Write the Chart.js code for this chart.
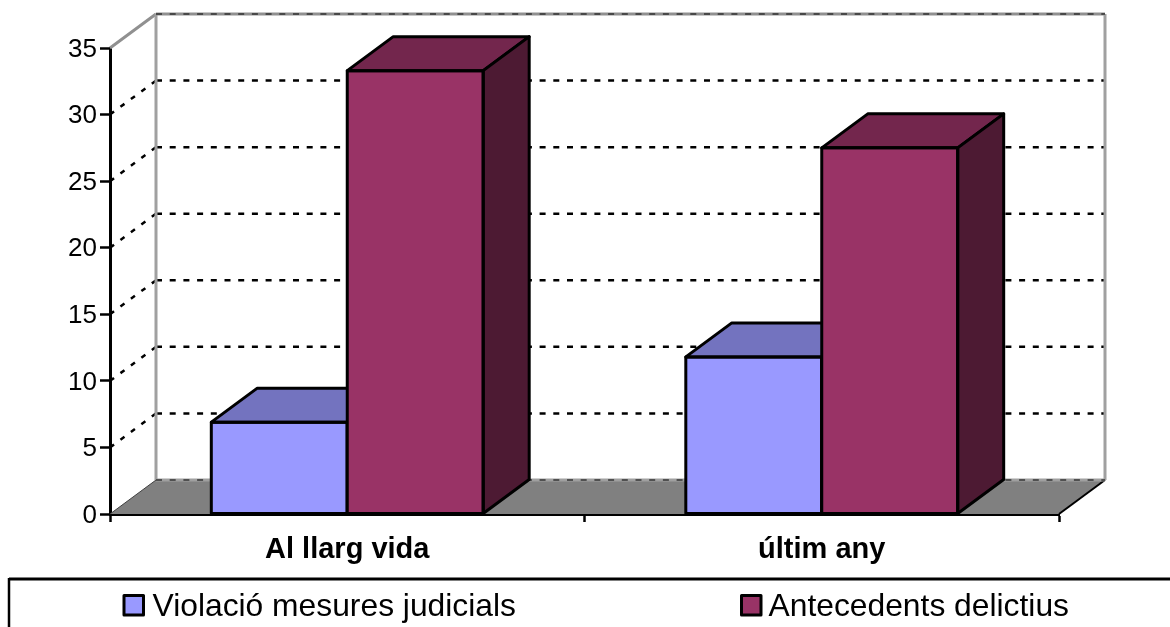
<!DOCTYPE html>
<html>
<head>
<meta charset="utf-8">
<title>Violació mesures judicials</title>
<script src="https://cdn.jsdelivr.net/npm/chart.js@4/dist/chart.umd.min.js"></script>
<style>
    html, body { margin: 0; padding: 0; background: #fff; overflow: hidden; }
    canvas { display: block; }
</style>
</head>
<body>
<canvas id="chart" width="1170" height="627"></canvas>
<script>
'use strict';

const categories = ['Al llarg vida', 'últim any'];
const seriesNames = ['Violació mesures judicials', 'Antecedents delictius'];
const violacioValues = [6.9, 11.8];
const antecedentsValues = [33.3, 27.5];

// fake perspective: the back wall is shifted by this much from the axes
const DEPTH_X = 46;
const DEPTH_Y = -34;

const FRONT = ['#9999ff', '#993366'];
const TOP = ['#7373bf', '#73264d'];
const SIDE = ['#545480', '#4d1a33'];

function poly(ctx, pts, fill, stroke, width) {
    ctx.beginPath();
    pts.forEach((p, i) => (i ? ctx.lineTo(p[0], p[1]) : ctx.moveTo(p[0], p[1])));
    ctx.closePath();
    if (fill) {
        ctx.fillStyle = fill;
        ctx.fill();
    }
    if (stroke) {
        ctx.strokeStyle = stroke;
        ctx.lineWidth = width;
        ctx.lineJoin = 'round';
        ctx.stroke();
    }
}

function line(ctx, x1, y1, x2, y2, color, width, dash) {
    ctx.save();
    ctx.beginPath();
    ctx.setLineDash(dash || []);
    ctx.moveTo(x1, y1);
    ctx.lineTo(x2, y2);
    ctx.strokeStyle = color;
    ctx.lineWidth = width;
    ctx.stroke();
    ctx.restore();
}

// floor, back wall and the gridlines that run across it
const wallsPlugin = {
    id: 'walls',
    beforeDatasetsDraw(chart) {
        const ctx = chart.ctx;
        const { left, right } = chart.chartArea;
        const yScale = chart.scales.y;
        const base = yScale.getPixelForValue(0);
        const top = yScale.getPixelForValue(yScale.max);

        poly(ctx, [
            [left, base],
            [left + DEPTH_X, base + DEPTH_Y],
            [right + DEPTH_X, base + DEPTH_Y],
            [right, base],
        ], '#808080');
        line(ctx, left, base, left + DEPTH_X, base + DEPTH_Y, '#404040', 1);
        line(ctx, right, base, right + DEPTH_X, base + DEPTH_Y, '#000', 2);

        for (const tick of yScale.ticks) {
            if (tick.value === 0 || tick.value === yScale.max) continue;
            const y = yScale.getPixelForValue(tick.value);
            line(ctx, left, y, left + DEPTH_X, y + DEPTH_Y, '#000', 2.5, [5, 8]);
            line(ctx, left + DEPTH_X, y + DEPTH_Y, right + DEPTH_X, y + DEPTH_Y, '#000', 2.5, [6, 7.7]);
        }

        // wall outline
        line(ctx, left, top, left + DEPTH_X, top + DEPTH_Y, '#909090', 3);
        line(ctx, left + DEPTH_X, top + DEPTH_Y, left + DEPTH_X, base + DEPTH_Y, '#a0a0a0', 3);
        line(ctx, left + DEPTH_X, top + DEPTH_Y, right + DEPTH_X, top + DEPTH_Y, '#909090', 3);
        line(ctx, right + DEPTH_X, top + DEPTH_Y, right + DEPTH_X, base + DEPTH_Y, '#a0a0a0', 3);
        line(ctx, left + DEPTH_X, top + DEPTH_Y, right + DEPTH_X, top + DEPTH_Y, '#000', 1, [6, 7.7]);
        line(ctx, left + DEPTH_X, base + DEPTH_Y, right + DEPTH_X, base + DEPTH_Y, '#a0a0a0', 3);
        line(ctx, left + DEPTH_X, base + DEPTH_Y, right + DEPTH_X, base + DEPTH_Y, '#000', 1, [6, 7.7]);
    },
};

// Chart.js paints the first dataset last, but here the second box has to sit
// in front, so the painting order is taken over: front fill, then all outlines
const boxPlugin = {
    id: 'boxFaces',
    beforeDatasetsDraw(chart) {
        const ctx = chart.ctx;
        chart.data.datasets.forEach((ds, i) => {
            const meta = chart.getDatasetMeta(i);
            meta.controller.draw();
            for (const bar of meta.data) {
                const p = bar.getProps(['x', 'y', 'base', 'width'], true);
                const l = p.x - p.width / 2;
                const r = p.x + p.width / 2;
                poly(ctx, [
                    [l, p.y],
                    [l + DEPTH_X, p.y + DEPTH_Y],
                    [r + DEPTH_X, p.y + DEPTH_Y],
                    [r, p.y],
                ], TOP[i], '#000', 3);
                poly(ctx, [
                    [r, p.y],
                    [r + DEPTH_X, p.y + DEPTH_Y],
                    [r + DEPTH_X, p.base + DEPTH_Y],
                    [r, p.base],
                ], SIDE[i], '#000', 3);
                poly(ctx, [
                    [l, p.y],
                    [r, p.y],
                    [r, p.base],
                    [l, p.base],
                ], null, '#000', 3);
            }
        });
    },
    beforeDatasetDraw() {
        return false; // already painted above
    },
};

// framed legend along the bottom edge, running off the canvas
const legendPlugin = {
    id: 'framedLegend',
    afterDraw(chart) {
        const ctx = chart.ctx;
        const w = chart.width;
        const h = chart.height;
        line(ctx, 9, 579, w, 579, '#000', 3);
        line(ctx, 9, 578, 9, h, '#000', 2.5);

        const boxX = [124, 741.5];
        const textX = [152.5, 768.5];
        seriesNames.forEach((name, i) => {
            ctx.fillStyle = FRONT[i];
            ctx.strokeStyle = '#000';
            ctx.lineWidth = 3;
            ctx.fillRect(boxX[i], 595.5, 19.5, 19.5);
            ctx.strokeRect(boxX[i], 595.5, 19.5, 19.5);
            ctx.fillStyle = '#000';
            ctx.font = '31.8px "Liberation Sans"';
            ctx.textAlign = 'left';
            ctx.textBaseline = 'alphabetic';
            ctx.fillText(name, textX[i], 616);
        });
    },
};

Chart.defaults.font.family = '"Liberation Sans", Arial, sans-serif';
Chart.defaults.color = '#000';

new Chart(document.getElementById('chart').getContext('2d'), {
    type: 'bar',
    data: {
        labels: categories,
        datasets: [
            {
                label: seriesNames[0],
                data: violacioValues,
                backgroundColor: FRONT[0],
            },
            {
                label: seriesNames[1],
                data: antecedentsValues,
                backgroundColor: FRONT[1],
            },
        ],
    },
    options: {
        responsive: false,
        animation: false,
        layout: { padding: { top: 48, right: 111, left: 0, bottom: 0 } },
        datasets: {
            bar: {
                barPercentage: 1,
                categoryPercentage: 0.573,
                borderWidth: 0,
            },
        },
        plugins: {
            legend: { display: false },
            tooltip: { enabled: false },
        },
        scales: {
            x: {
                afterFit(scale) {
                    scale.height = 113;
                },
                border: { color: '#000', width: 3 },
                grid: {
                    offset: true,
                    drawOnChartArea: false,
                    drawTicks: true,
                    tickLength: 8,
                    tickColor: '#000',
                    tickWidth: 2.5,
                },
                ticks: {
                    padding: 11,
                    maxRotation: 0,
                    font: { size: 29, weight: 'bold' },
                },
            },
            y: {
                min: 0,
                max: 35,
                afterFit(scale) {
                    scale.width = 110;
                },
                border: { color: '#000', width: 3 },
                grid: {
                    drawOnChartArea: false,
                    drawTicks: true,
                    tickLength: 10,
                    tickColor: '#000',
                    tickWidth: 2.5,
                },
                ticks: {
                    stepSize: 5,
                    padding: 3,
                    labelOffset: 1.5,
                    font: { size: 26 },
                },
            },
        },
    },
    plugins: [wallsPlugin, boxPlugin, legendPlugin],
});
</script>
</body>
</html>
